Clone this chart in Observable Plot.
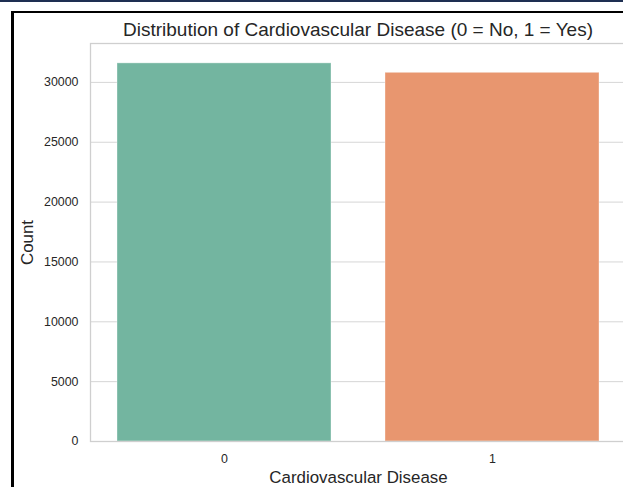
<!DOCTYPE html>
<html>
<head>
<meta charset="utf-8">
<script src="https://cdn.jsdelivr.net/npm/d3@7"></script>
<script src="https://cdn.jsdelivr.net/npm/@observablehq/plot@0.6"></script>
<style>
  html, body { margin: 0; padding: 0; background: #fff; overflow: hidden; width: 623px; height: 487px; }
  #wrap { position: relative; width: 623px; height: 487px; overflow: hidden; font-family: "Liberation Sans", Arial, sans-serif; }
  #topline { position: absolute; left: 0; top: 0; width: 623px; height: 2px; background: #1e2f52; }
  #frame { position: absolute; left: 11px; top: 11px; width: 700px; height: 600px; border-left: 3px solid #000; border-top: 2px solid #000; box-sizing: border-box; }
  #chart { position: absolute; left: 0; top: 0; width: 640px; }
  #chart svg { max-width: none !important; }
  #title { position: absolute; left: 90px; width: 536px; top: 19px; text-align: center; font-size: 19px; color: #262626; white-space: nowrap; line-height: 22px; }
</style>
</head>
<body>
<div id="wrap">
  <div id="topline"></div>
  <div id="frame"></div>
  <div id="chart"></div>
  <div id="title"></div>
</div>
<script>
const categories = ["0", "1"];
const counts = [31590, 30800];
const barColors = ["#73b5a0", "#e8966f"];
const yTicks = [0, 5000, 10000, 15000, 20000, 25000, 30000];
const titleText = "Distribution of Cardiovascular Disease (0 = No, 1 = Yes)";
const xLabel = "Cardiovascular Disease";
const yLabel = "Count";

const data = categories.map((c, i) => ({cat: c, count: counts[i]}));
document.getElementById("title").textContent = titleText;

const chart = Plot.plot({
  width: 640,
  height: 487,
  marginLeft: 90,
  marginRight: 14,
  marginTop: 43,
  marginBottom: 46,
  style: {fontFamily: "'Liberation Sans', Arial, sans-serif", fontSize: "12.4px", color: "#262626", background: "transparent", maxWidth: "none"},
  x: {domain: categories, paddingInner: 0.2, paddingOuter: 0.1, label: null},
  y: {domain: [0, 33250], label: null},
  color: {domain: categories, range: barColors},
  marks: [
    Plot.gridY(yTicks, {stroke: "#d6d6d6", strokeOpacity: 1, strokeWidth: 1}),
    Plot.barY(data, {x: "cat", y: "count", fill: "cat", stroke: "#ffffff", strokeOpacity: 0.35, strokeWidth: 1}),
    Plot.frame({stroke: "#cfcfcf", strokeWidth: 1.3}),
    Plot.axisY(yTicks, {tickSize: 0, tickPadding: 12, tickFormat: d => String(d), fill: "#262626", fontSize: 12.4, label: null}),
    Plot.axisX({tickSize: 0, tickPadding: 13, fill: "#262626", fontSize: 12.4, label: null}),
    Plot.text([xLabel], {frameAnchor: "bottom", dy: 41, fontSize: 16.9, fill: "#262626", textAnchor: "middle"}),
    Plot.text([yLabel], {frameAnchor: "left", dx: -63, rotate: -90, fontSize: 16.9, fill: "#262626", textAnchor: "middle"})
  ]
});
document.getElementById("chart").appendChild(chart);
</script>
</body>
</html>
